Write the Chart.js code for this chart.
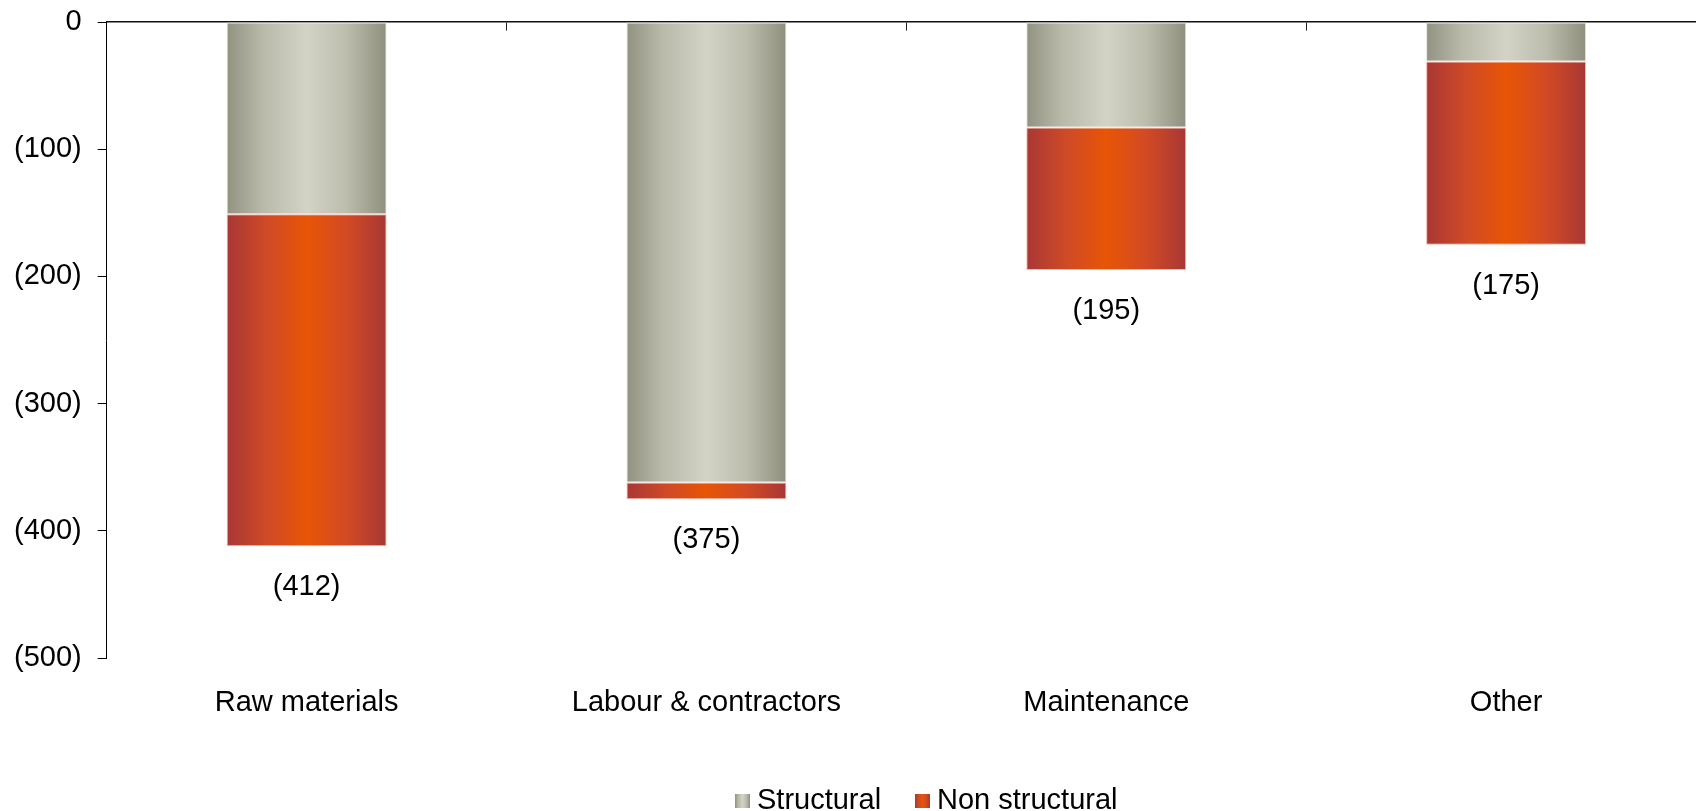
<!DOCTYPE html>
<html>
<head>
<meta charset="utf-8">
<script src="https://cdn.jsdelivr.net/npm/chart.js@4.4.1/dist/chart.umd.min.js"></script>
<style>
html, body { margin: 0; padding: 0; background: #fff; overflow: hidden; }
#wrap { position: relative; width: 1696px; height: 811px; overflow: hidden; background: #fff; }
#c { position: absolute; left: 0; top: 0; }
.lg-box { position: absolute; width: 15px; height: 14px; top: 794px; }
.lg-txt { position: absolute; top: 785px; font: 29px/29px "Liberation Sans", Arial, sans-serif; color: #000; white-space: nowrap; }
</style>
</head>
<body>
<div id="wrap">
  <canvas id="c" width="1706" height="811"></canvas>
</div>
<script>
// ---- data ----
const categories = ['Raw materials', 'Labour & contractors', 'Maintenance', 'Other'];
const seriesNames = ['Structural', 'Non structural'];
const structural = [-151, -362, -83, -31];
const nonStructural = [-261, -13, -112, -144];
const yTickValues = [0, -100, -200, -300, -400, -500];

// ---- styles ----
const FONT = '"Liberation Sans", Arial, sans-serif';
const grayStops = [[0, '#929281'], [0.22, '#b9b9aa'], [0.5, '#d3d3c6'], [0.75, '#bdbdae'], [1, '#8f8f7e']];
const redStops = [[0, '#a83735'], [0.25, '#cf4a27'], [0.5, '#e85506'], [0.75, '#d24a24'], [1, '#a83735']];
const stopsBySeries = [grayStops, redStops];
const legendLeft = [735, 915];

function fmt(v) {
  return v === 0 ? '0' : (v < 0 ? '(' + Math.abs(v) + ')' : String(v));
}

function noPad(scale) {
  scale.paddingLeft = 0; scale.paddingRight = 0; scale.paddingTop = 0; scale.paddingBottom = 0;
}

const gradientPlugin = {
  id: 'barGradient',
  beforeDatasetsDraw(chart) {
    const ctx = chart.ctx;
    chart.data.datasets.forEach((ds, di) => {
      const meta = chart.getDatasetMeta(di);
      meta.data.forEach(el => {
        const p = el.getProps(['x', 'width'], true);
        const g = ctx.createLinearGradient(p.x - p.width / 2, 0, p.x + p.width / 2, 0);
        stopsBySeries[di].forEach(s => g.addColorStop(s[0], s[1]));
        el.options = Object.assign({}, el.options, { backgroundColor: g });
      });
    });
  }
};

const totalsPlugin = {
  id: 'totals',
  afterDatasetsDraw(chart) {
    const ctx = chart.ctx;
    ctx.save();
    ctx.font = '29px ' + FONT;
    ctx.fillStyle = '#000';
    ctx.textAlign = 'center';
    ctx.textBaseline = 'middle';
    categories.forEach((c, i) => {
      let bottom = -Infinity, x = 0;
      chart.data.datasets.forEach((ds, di) => {
        const el = chart.getDatasetMeta(di).data[i];
        const p = el.getProps(['x', 'y', 'base'], true);
        bottom = Math.max(bottom, p.y, p.base);
        x = p.x;
      });
      const total = structural[i] + nonStructural[i];
      ctx.fillText(fmt(total), x, bottom + 41);
    });
    ctx.restore();
  }
};

new Chart(document.getElementById('c'), {
  type: 'bar',
  data: {
    labels: categories,
    datasets: [
      { label: seriesNames[0], data: structural, borderWidth: 1, borderColor: '#e4e4dc', borderSkipped: false,
        barPercentage: 0.5, categoryPercentage: 0.8 },
      { label: seriesNames[1], data: nonStructural, borderWidth: 1, borderColor: '#efb8a8', borderSkipped: false,
        barPercentage: 0.5, categoryPercentage: 0.8 }
    ]
  },
  options: {
    responsive: false,
    animation: false,
    layout: { padding: { left: -2, top: 22, right: 0, bottom: 64 } },
    plugins: { legend: { display: false }, tooltip: { enabled: false } },
    scales: {
      x: {
        type: 'category', position: 'bottom', stacked: true, offset: true,
        grid: { display: false, drawTicks: false },
        border: { display: false },
        ticks: { padding: 27, color: '#000', font: { family: FONT, size: 29 }, maxRotation: 0, autoSkip: false },
        afterFit: noPad
      },
      x2: {
        type: 'category', labels: categories, position: { y: 0 }, offset: true,
        grid: { offset: true, drawOnChartArea: false, drawTicks: true, tickLength: 8, color: '#222', lineWidth: 1 },
        border: { display: true, color: '#111', width: 1.6 },
        ticks: { display: false },
        afterFit: noPad
      },
      y: {
        stacked: true, min: -500, max: 0, position: 'left',
        afterBuildTicks: (scale) => { scale.ticks = yTickValues.map(v => ({ value: v })); },
        grid: { drawOnChartArea: false, drawTicks: true, tickLength: 9, color: '#000', lineWidth: 1 },
        border: { display: true, color: '#000', width: 1 },
        ticks: { padding: 16, color: '#000', font: { family: FONT, size: 29 }, callback: (v) => fmt(v) },
        afterFit: noPad
      }
    }
  },
  plugins: [gradientPlugin, totalsPlugin]
});

// HTML legend
const wrap = document.getElementById('wrap');
seriesNames.forEach((name, i) => {
  const box = document.createElement('div');
  box.className = 'lg-box';
  box.style.left = legendLeft[i] + 'px';
  box.style.background = 'linear-gradient(to right,' + stopsBySeries[i].map(s => s[1] + ' ' + (s[0] * 100) + '%').join(',') + ')';
  wrap.appendChild(box);
  const t = document.createElement('div');
  t.className = 'lg-txt';
  t.style.left = (legendLeft[i] + 22) + 'px';
  t.textContent = name;
  wrap.appendChild(t);
});
</script>
</body>
</html>
